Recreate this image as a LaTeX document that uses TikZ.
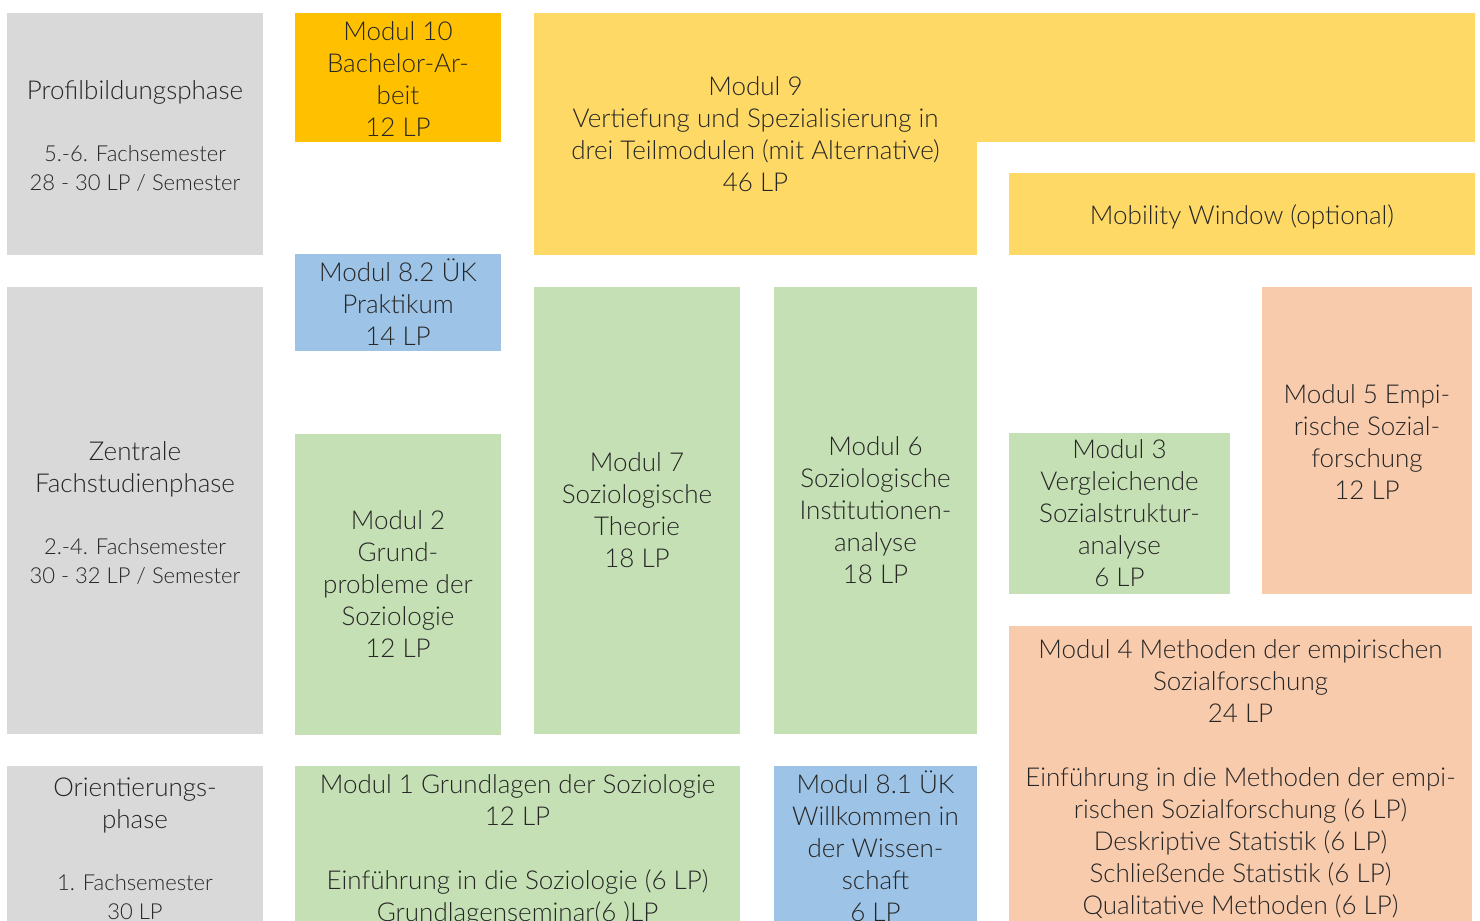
\documentclass[tikz,border=0pt]{standalone}
\usepackage{fontspec}
\setmainfont{Lato}[UprightFont=* Light]
\definecolor{cgray}{HTML}{D9D9D9}
\definecolor{corange}{HTML}{FFC000}
\definecolor{cyellow}{HTML}{FFD966}
\definecolor{cblue}{HTML}{9DC3E6}
\definecolor{cgreen}{HTML}{C5E0B4}
\definecolor{csalmon}{HTML}{F8CBAD}
\definecolor{ctext}{HTML}{262626}
\begin{document}
\begin{tikzpicture}[x=0.5pt,y=-0.5pt,
  box/.style={rectangle,inner sep=0pt,outer sep=0pt,draw=none,align=center,
    text=ctext,font=\fontsize{13}{16}\selectfont},
  txt/.style={inner sep=0pt,align=center,text=ctext,font=\fontsize{13}{16}\selectfont},
]
\useasboundingbox (0,0) rectangle (1480,921);
\clip (0,0) rectangle (1480,921);
% left phase column
\node[box,fill=cgray,minimum width=128pt,minimum height=121pt] (pb) at (135,134) {};
\node[txt] (pbt) at ([yshift=-1.25pt]pb.center)
  {Profilbildungsphase\\[15pt]\fontsize{11}{14.5}\selectfont 5.-6. Fachsemester\\[-1.5pt]\fontsize{11}{14.5}\selectfont 28 - 30 LP / Semester};
\node[box,fill=cgray,minimum width=128pt,minimum height=223.5pt] (zf) at (135,510.5) {};
\node[txt] (zft) at ([yshift=-1.1pt]zf.center)
  {Zentrale\\Fachstudienphase\\[15pt]\fontsize{11}{14.5}\selectfont 2.-4. Fachsemester\\[-1.5pt]\fontsize{11}{14.5}\selectfont 30 - 32 LP / Semester};
\node[box,fill=cgray,minimum width=128pt,minimum height=82.5pt] (op) at (135,848.5)
  {Orientierungs-\\phase\\[15pt]\fontsize{11}{14.5}\selectfont 1. Fachsemester\\[-1.5pt]\fontsize{11}{14.5}\selectfont 30 LP};
% top row
\node[box,fill=corange,minimum width=103pt,minimum height=64.5pt] (m10) at (398,77.5) {};
\node[txt] (m10t) at ([yshift=-0.75pt]m10.center)
  {Modul 10\\Bachelor-Ar-\\beit\\12 LP};
\fill[cyellow] (977,13) rectangle (1475,142);
\node[box,fill=cyellow,minimum width=221.5pt,minimum height=121pt] (m9) at (755.5,134)
  {Modul 9\\Vertiefung und Spezialisierung in\\drei Teilmodulen (mit Alternative)\\46 LP};
\node[box,fill=cyellow,minimum width=233pt,minimum height=41pt] (mw) at (1242,214) {};
\node[txt] (mwt) at ([yshift=-1.5pt]mw.center) {Mobility Window (optional)};
% middle
\node[box,fill=cblue,minimum width=103pt,minimum height=48.5pt] (m82) at (398,302.5)
  {Modul 8.2 ÜK\\Praktikum\\14 LP};
\node[box,fill=cgreen,minimum width=103pt,minimum height=150.5pt] (m2) at (398,584.5)
  {Modul 2\\Grund-\\probleme der\\Soziologie\\12 LP};
\node[box,fill=cgreen,minimum width=103pt,minimum height=223.5pt] (m7) at (637,510.5)
  {Modul 7\\Soziologische\\Theorie\\18 LP};
\node[box,fill=cgreen,minimum width=101.5pt,minimum height=223.5pt] (m6) at (875.5,510.5)
  {Modul 6\\Soziologische\\Institutionen-\\analyse\\18 LP};
\node[box,fill=cgreen,minimum width=110.5pt,minimum height=80.5pt] (m3) at (1119.5,513.5)
  {Modul 3\\Vergleichende\\Sozialstruktur-\\analyse\\6 LP};
\node[box,fill=csalmon,minimum width=105pt,minimum height=153.5pt] (m5) at (1367,440.5) {};
\node[txt] (m5t) at ([yshift=-1pt]m5.center)
  {Modul 5 Empi-\\rische Sozial-\\forschung\\12 LP};
\node[box,fill=csalmon,minimum width=231.5pt,minimum height=151pt] (m4) at (1240.5,777) {};
\node[txt] (m4t) at ([yshift=-1pt]m4.center)
  {Modul 4 Methoden der empirischen\\Sozialforschung\\24 LP\\[16pt]Einführung in die Methoden der empi-\\rischen Sozialforschung (6 LP)\\Deskriptive Statistik (6 LP)\\Schließende Statistik (6 LP)\\Qualitative Methoden (6 LP)};
% bottom row
\node[box,fill=cgreen,minimum width=222.5pt,minimum height=82pt] (m1) at (517.5,848) {};
\node[txt] (m1t) at ([yshift=-1pt]m1.center)
  {Modul 1 Grundlagen der Soziologie\\12 LP\\[16pt]Einführung in die Soziologie (6 LP)\\Grundlagenseminar(6 )LP};
\node[box,fill=cblue,minimum width=101.5pt,minimum height=82pt] (m81) at (875.5,848) {};
\node[txt] (m81t) at ([yshift=1pt]m81.center)
  {Modul 8.1 ÜK\\Willkommen in\\der Wissen-\\schaft\\6 LP};
\end{tikzpicture}
\end{document}
